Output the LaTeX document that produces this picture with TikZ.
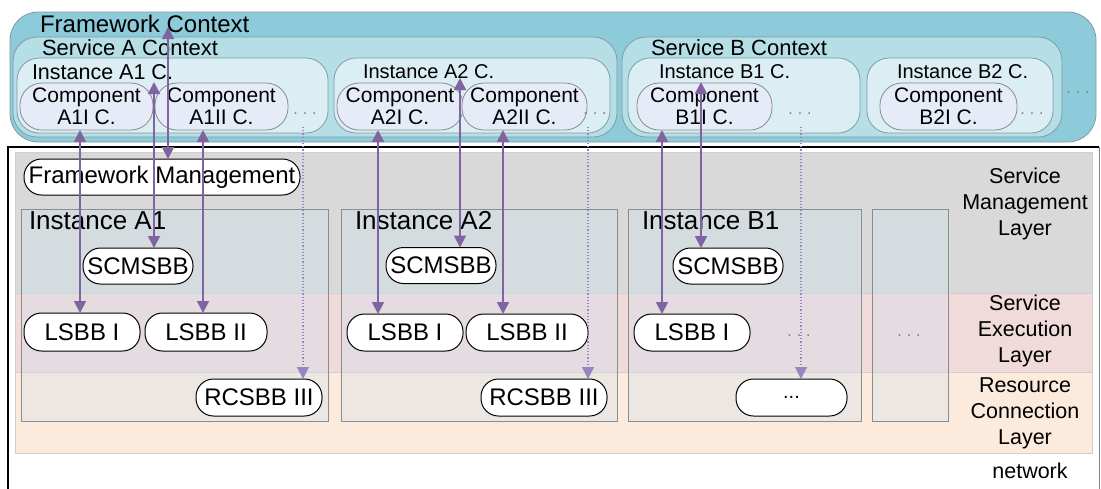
\documentclass[tikz,border=0pt]{standalone}
\usepackage{fontspec}
\setmainfont{Liberation Sans}
\usetikzlibrary{arrows.meta,calc}
\definecolor{fwfill}{HTML}{8ECBDA}
\definecolor{svfill}{HTML}{B6DEE7}
\definecolor{icfill}{HTML}{DBEEF4}
\definecolor{compfill}{HTML}{E6ECF7}
\definecolor{ctxline}{HTML}{7F9CA4}
\definecolor{compline}{HTML}{8A8A8A}
\definecolor{smlfill}{HTML}{D9D9D9}
\definecolor{selfill}{HTML}{F0DADA}
\definecolor{rclfill}{HTML}{FCEADC}
\definecolor{layerline}{HTML}{CFCFCF}
\definecolor{instfill}{HTML}{C9E3F0}
\definecolor{instline}{HTML}{8C8C8C}
\definecolor{arrowc}{HTML}{8064A2}
\definecolor{dotc}{HTML}{9A86BE}
\definecolor{dotsc}{HTML}{7F7F7F}
\begin{document}
\begin{tikzpicture}[x=1pt,y=-1pt,
  every node/.style={inner sep=0pt,outer sep=0pt},
  ctxbox/.style={draw=ctxline,line width=0.8pt,anchor=north west},
  fwctx/.style={ctxbox,fill=fwfill,rounded corners=28pt},
  svctx/.style={ctxbox,fill=svfill,rounded corners=24pt},
  instctx/.style={ctxbox,fill=icfill,rounded corners=22pt},
  compbox/.style={draw=compline,line width=0.8pt,fill=compfill,rounded corners=22pt,
    anchor=north west,minimum height=47pt,align=center,
    font=\fontsize{21}{22}\selectfont},
  pill/.style={draw=black,line width=1pt,fill=white,rounded corners=17.5pt,
    minimum height=36pt,font=\fontsize{24}{26}\selectfont},
  layerbox/.style={draw=layerline,line width=0.8pt,anchor=north west},
  instbox/.style={draw=instline,line width=0.8pt,fill=instfill,fill opacity=0.3,anchor=north west},
  bigtxt/.style={font=\fontsize{24}{26}\selectfont,anchor=base west},
  midtxt/.style={font=\fontsize{22}{24}\selectfont,anchor=base west},
  smalltxt/.style={font=\fontsize{20}{22}\selectfont,anchor=base west},
  layertxt/.style={font=\fontsize{21.5}{26}\selectfont,align=center},
  instlabel/.style={font=\fontsize{26}{28}\selectfont,anchor=base west},
  dots/.style={text=dotsc,font=\fontsize{16}{18}\selectfont},
  biarrow/.style={draw=arrowc,line width=1.8pt,
    {Triangle[width=12pt,length=12pt]}-{Triangle[width=12pt,length=12pt]}},
  dotarrow/.style={draw=dotc,line width=1.2pt,dash pattern=on 1.2pt off 2pt,
    -{Triangle[width=12pt,length=12pt,sep=0pt]}}
]
\useasboundingbox (0,0) rectangle (1101,488);
\newcommand{\dotrow}{{.}\hspace{5pt}{.}\hspace{5pt}{.}}

% ---------------- context area ----------------
\node[fwctx,minimum width=1086pt,minimum height=130pt] (fwc) at (10,12) {};
\node[bigtxt] (fwct) at (40,32) {Framework Context};

\node[svctx,minimum width=604pt,minimum height=100pt] (sac) at (13,37) {};
\node[midtxt] (sact) at (42,55) {Service A Context};
\node[svctx,minimum width=440pt,minimum height=100pt] (sbc) at (622,37) {};
\node[midtxt] (sbct) at (651,55) {Service B Context};

\node[instctx,minimum width=311pt,minimum height=75pt] (ia1c) at (17,58) {};
\node[font=\fontsize{21.5}{23}\selectfont,anchor=base west] (ia1ct) at (32,79) {Instance A1 C.};
\node[instctx,minimum width=276pt,minimum height=75pt] (ia2c) at (334,58) {};
\node[smalltxt] (ia2ct) at (363,78) {Instance A2 C.};
\node[instctx,minimum width=232pt,minimum height=75pt] (ib1c) at (628,58) {};
\node[smalltxt] (ib1ct) at (659,78) {Instance B1 C.};
\node[instctx,minimum width=186pt,minimum height=75pt] (ib2c) at (867,58) {};
\node[smalltxt] (ib2ct) at (897,78) {Instance B2 C.};

\node[compbox,minimum width=133pt] (ca1i) at (20,83) {Component\\A1I C.};
\node[compbox,minimum width=133pt] (ca1ii) at (155,83) {Component\\A1II C.};
\node[compbox,minimum width=126pt] (ca2i) at (337,83) {Component\\A2I C.};
\node[compbox,minimum width=125pt] (ca2ii) at (462,83) {Component\\A2II C.};
\node[compbox,minimum width=135pt] (cb1i) at (637,83) {Component\\B1I C.};
\node[compbox,minimum width=137pt] (cb2i) at (880,83) {Component\\B2I C.};

\node[dots] (d1) at (305,114) {\dotrow};
\node[dots] (d2) at (595,114) {\dotrow};
\node[dots] (d3) at (800,114) {\dotrow};
\node[dots] (d4) at (1032,114) {\dotrow};
\node[dots] (d5) at (1078,93) {\dotrow};

% ---------------- layer area ----------------
\draw[black,line width=1.3pt] (8,495) |- (1099,147);
\draw[gray,line width=0.7pt] (1099,147) -- (1099,495);
\node[layerbox,fill=smlfill,minimum width=1077pt,minimum height=141pt] (sml) at (15,152) {};
\node[layerbox,fill=selfill,minimum width=1077pt,minimum height=79pt] (sel) at (15,293) {};
\node[layerbox,fill=rclfill,minimum width=1077pt,minimum height=81pt] (rcl) at (15,372) {};

\node[layertxt] (smlt) at (1025,204) {Service\\Management\\Layer};
\node[layertxt] (selt) at (1025,331) {Service\\Execution\\Layer};
\node[layertxt] (rclt) at (1025,413) {Resource\\Connection\\Layer};
\node[font=\fontsize{21.5}{24}\selectfont,anchor=base] (net) at (1030,478) {network};

\node[pill,minimum width=276pt] (fm) at (162,177) {Framework Management};

\node[instbox,minimum width=307pt,minimum height=212pt] (ia1) at (21,209) {};
\node[instbox,minimum width=276pt,minimum height=212pt] (ia2) at (341,209) {};
\node[instbox,minimum width=233pt,minimum height=212pt] (ib1) at (628,209) {};
\node[instbox,minimum width=76pt,minimum height=212pt] (ixx) at (872,209) {};

\node[instlabel] (ia1t) at (29,229.5) {Instance A1};
\node[instlabel] (ia2t) at (355,229.5) {Instance A2};
\node[instlabel] (ib1t) at (642,229.5) {Instance B1};

\node[pill,minimum width=110pt] (s1) at (138,266) {SCMSBB};
\node[pill,minimum width=110pt] (s2) at (441,265.5) {SCMSBB};
\node[pill,minimum width=110pt] (s3) at (728,266) {SCMSBB};

\node[pill,minimum width=116pt,minimum height=38pt] (l1) at (82,332) {LSBB I};
\node[pill,minimum width=122pt,minimum height=38pt] (l2) at (206,332) {LSBB II};
\node[pill,minimum width=116pt,minimum height=37pt] (l3) at (405,332.5) {LSBB I};
\node[pill,minimum width=122pt,minimum height=37pt] (l4) at (527,332.5) {LSBB II};
\node[pill,minimum width=116pt,minimum height=37pt] (l5) at (692,332.5) {LSBB I};

\node[pill,minimum width=126pt,minimum height=37pt] (r1) at (259,397.5) {RCSBB III};
\node[pill,minimum width=126pt,minimum height=37pt] (r2) at (544,397.5) {RCSBB III};
\node[pill,minimum width=111pt,minimum height=37pt,font=\fontsize{20}{22}\selectfont] (r3) at (791.5,397.5) {...};

\node[dots] (d6) at (799,336) {\dotrow};
\node[dots] (d7) at (909,336) {\dotrow};

% ---------------- connectors ----------------
\coordinate (fctip) at (168,27);
\coordinate (a1tip) at (154,82);
\coordinate (a2tip) at (460,78);
\coordinate (b1tip) at (701,82);
\coordinate (xa1i) at (80,0);
\coordinate (xa1ii) at (203,0);
\coordinate (xa2i) at (378,0);
\coordinate (xa2ii) at (503,0);
\coordinate (xb1i) at (662,0);
\coordinate (da1) at (303,127);
\coordinate (da2) at (588,127);
\coordinate (db1) at (801,127);

\draw[biarrow] (fctip) -- (fctip |- fm.north);
\draw[biarrow] (a1tip) -- (a1tip |- s1.north);
\draw[biarrow] (a2tip) -- (a2tip |- s2.north);
\draw[biarrow] (b1tip) -- (b1tip |- s3.north);

\draw[biarrow] (xa1i |- ca1i.south) -- (xa1i |- l1.north);
\draw[biarrow] (xa1ii |- ca1ii.south) -- (xa1ii |- l2.north);
\draw[biarrow] (xa2i |- ca2i.south) -- (xa2i |- l3.north);
\draw[biarrow] (xa2ii |- ca2ii.south) -- (xa2ii |- l4.north);
\draw[biarrow] (xb1i |- cb1i.south) -- (xb1i |- l5.north);

\draw[dotarrow] (da1) -- (da1 |- r1.north);
\draw[dotarrow] (da2) -- (da2 |- r2.north);
\draw[dotarrow] (db1) -- (db1 |- r3.north);
\end{tikzpicture}
\end{document}
